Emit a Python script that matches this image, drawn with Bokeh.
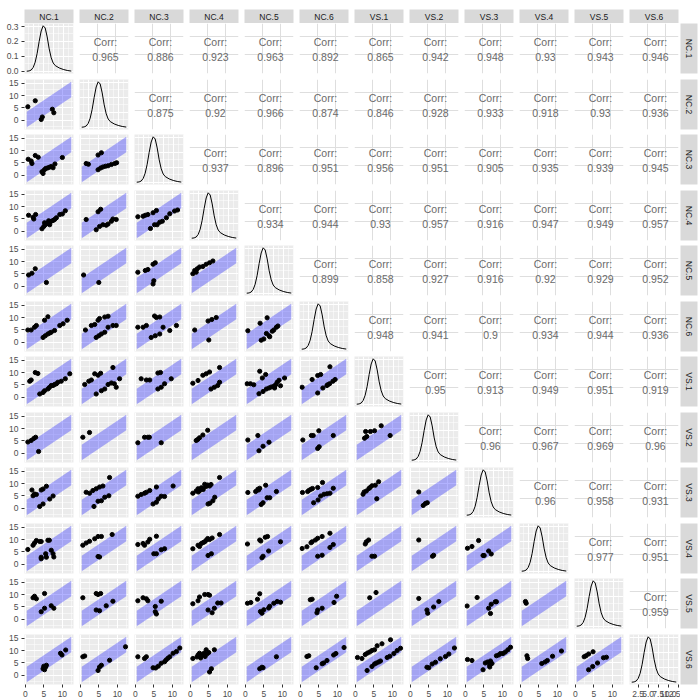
import math
from bokeh.plotting import figure
from bokeh.layouts import gridplot
from bokeh.models import FixedTicker, PrintfTickFormatter, Range1d
from bokeh.core.properties import value
from bokeh.embed import file_html
from bokeh.resources import INLINE

variables = ["NC.1", "NC.2", "NC.3", "NC.4", "NC.5", "NC.6",
             "VS.1", "VS.2", "VS.3", "VS.4", "VS.5", "VS.6"]

# ---- correlations (upper triangle), one list per row variable ----
corr_NC1 = [0.965, 0.886, 0.923, 0.963, 0.892, 0.865, 0.942, 0.948, 0.93, 0.943, 0.946]
corr_NC2 = [0.875, 0.92, 0.966, 0.874, 0.846, 0.928, 0.933, 0.918, 0.93, 0.936]
corr_NC3 = [0.937, 0.896, 0.951, 0.956, 0.951, 0.905, 0.935, 0.939, 0.945]
corr_NC4 = [0.934, 0.944, 0.93, 0.957, 0.916, 0.947, 0.949, 0.957]
corr_NC5 = [0.899, 0.858, 0.927, 0.916, 0.92, 0.929, 0.952]
corr_NC6 = [0.948, 0.941, 0.9, 0.934, 0.944, 0.936]
corr_VS1 = [0.95, 0.913, 0.949, 0.951, 0.919]
corr_VS2 = [0.96, 0.967, 0.969, 0.96]
corr_VS3 = [0.96, 0.958, 0.931]
corr_VS4 = [0.977, 0.951]
corr_VS5 = [0.959]
corr_rows = [corr_NC1, corr_NC2, corr_NC3, corr_NC4, corr_NC5, corr_NC6,
             corr_VS1, corr_VS2, corr_VS3, corr_VS4, corr_VS5]

# ---- diagonal density (estimated shape) ----
dens_x = [0.9, 1.5, 2.0, 2.5, 3.0, 3.5, 4.0, 4.5, 5.0, 5.5, 6.0, 6.5, 7.0, 7.5, 8.0, 9.0, 10.0, 11.0, 12.0]
dens_y = [0.0, 0.002, 0.008, 0.025, 0.06, 0.12, 0.2, 0.27, 0.305, 0.29, 0.23, 0.15, 0.09, 0.055, 0.038, 0.022, 0.012, 0.005, 0.001]

# ---- agreement band ----
band_x = [0.4, 12.4]
band_half = 3.1

# ---- scatter points (lower triangle): x = column variable, y = row variable ----
pts_NC2 = {
    "NC.1": ([0.7, 2.7, 4.3, 4.6, 7.3, 7.7], [5.5, 7.9, 0.4, 1.4, 4.5, 3.1]),
}
pts_NC3 = {
    "NC.1": ([0.8, 1.6, 1.8, 2.7, 3.5, 4.5, 4.8, 5.1, 5.5, 6.0, 6.5, 7.0, 7.5, 8.0, 10.0],
             [6.5, 5.8, 4.8, 8.0, 7.3, 1.5, 0.8, 2.2, 2.8, 3.0, 3.3, 3.6, 3.1, 4.6, 7.2]),
    "NC.2": ([1.6, 2.2, 4.8, 5.7, 4.8, 5.5, 6.1, 6.8, 7.5, 8.4, 9.3, 9.8],
             [4.8, 4.5, 8.2, 9.1, 2.3, 3.0, 3.4, 3.7, 3.9, 4.4, 4.8, 5.1]),
}
pts_NC4 = {
    "NC.1": ([0.9, 2.1, 2.3, 2.8, 4.5, 5.0, 5.4, 5.7, 6.1, 6.6, 7.0, 7.5, 7.9, 8.4, 9.3, 10.0, 10.8, 6.6, 5.2, 6.3],
             [6.5, 5.7, 5.0, 6.8, 1.1, 2.0, 2.7, 3.1, 3.4, 3.8, 4.1, 4.4, 4.8, 5.5, 6.8, 7.0, 8.3, 2.7, 3.5, 4.3]),
    "NC.2": ([1.6, 4.8, 5.5, 4.3, 5.2, 6.1, 7.0, 7.5, 8.4, 8.8, 9.7],
             [4.8, 7.9, 8.9, 0.7, 2.0, 2.7, 2.5, 3.0, 4.1, 5.0, 4.8]),
    "NC.3": ([0.7, 2.1, 2.7, 3.4, 4.8, 5.7, 4.1, 5.2, 5.9, 6.6, 7.3, 8.4, 9.3, 10.6, 11.4],
             [5.9, 6.1, 6.5, 6.8, 7.5, 8.4, 1.2, 2.7, 2.7, 3.7, 4.1, 5.5, 7.1, 8.2, 8.6]),
}
pts_NC5 = {
    "NC.1": ([0.9, 1.8, 2.7, 5.7], [4.6, 5.3, 7.1, 1.6]),
    "NC.2": ([0.9, 5.0], [4.6, 1.6]),
    "NC.3": ([0.7, 2.7, 3.4, 4.8, 5.4, 4.8, 5.0], [5.7, 6.4, 6.8, 8.9, 9.5, 1.0, 2.3]),
    "NC.4": ([0.7, 1.2, 1.6, 1.9, 2.5, 3.4, 4.3, 5.2, 6.1], [5.1, 6.4, 5.7, 7.1, 7.8, 8.0, 8.9, 9.5, 10.2]),
}
pts_NC6 = {
    "NC.1": ([0.7, 1.6, 2.5, 3.0, 5.2, 6.1, 4.8, 5.4, 6.1, 7.0, 7.9, 9.3, 10.2, 11.3, 6.6],
             [5.0, 5.0, 6.1, 6.8, 8.9, 10.3, 2.0, 2.7, 3.4, 4.1, 4.8, 6.8, 7.5, 8.9, 3.8]),
    "NC.2": ([1.4, 3.0, 3.9, 4.8, 5.2, 6.6, 7.5, 4.3, 5.0, 5.7, 6.6, 7.5, 8.8, 9.7],
             [5.0, 6.8, 7.2, 8.9, 9.6, 10.2, 10.5, 2.0, 2.7, 3.4, 4.1, 6.1, 6.8, 6.8]),
    "NC.3": ([0.7, 2.1, 3.0, 5.7, 6.6, 5.2, 4.3, 5.4, 6.6, 7.5, 9.3, 11.1],
             [6.1, 6.1, 6.8, 10.0, 10.2, 10.6, 2.0, 2.7, 3.4, 6.1, 4.8, 6.8]),
    "NC.4": ([1.2, 4.8, 5.8, 7.0, 5.0], [5.0, 8.6, 9.2, 10.0, 1.0]),
    "NC.5": ([0.7, 4.0, 5.9, 4.3, 5.0, 6.4, 6.6, 7.3, 7.7, 8.4, 8.8, 5.7],
             [4.7, 7.7, 9.9, 0.9, 1.4, 2.7, 2.3, 4.5, 5.0, 6.1, 6.6, 3.6]),
}
pts_VS1 = {
    "NC.1": ([1.2, 1.6, 2.7, 3.4, 3.9, 4.8, 5.2, 6.1, 7.0, 7.9, 8.8, 9.7, 10.8, 12.0, 7.5, 8.4, 6.5],
             [6.5, 7.0, 10.0, 9.6, 1.4, 2.0, 2.7, 3.4, 4.8, 5.2, 6.1, 6.5, 7.5, 9.5, 4.8, 5.5, 4.0]),
    "NC.2": ([1.2, 2.3, 3.0, 3.9, 4.8, 5.5, 4.3, 5.7, 6.6, 7.5, 8.4, 8.8, 9.2, 9.7, 10.6],
             [5.2, 6.5, 7.0, 9.5, 8.9, 9.7, 1.4, 2.7, 3.4, 5.2, 5.8, 12.0, 5.5, 4.1, 7.5]),
    "NC.3": ([1.6, 3.0, 3.9, 6.1, 6.8, 6.1, 7.0, 7.9, 9.7], [7.5, 7.0, 7.0, 9.8, 10.0, 3.4, 4.1, 5.5, 7.5]),
    "NC.4": ([0.7, 2.1, 3.4, 4.3, 5.2, 7.9, 5.6, 6.5, 7.4, 7.9], [5.7, 6.8, 8.9, 9.5, 10.2, 12.0, 3.4, 4.1, 4.8, 6.1]),
    "NC.5": ([0.5, 1.4, 2.3, 3.9, 4.6, 5.5, 3.7, 4.8, 5.7, 6.4, 7.0, 7.7, 8.2, 8.6, 9.1, 9.5, 10.6, 7.9],
             [5.5, 5.5, 5.1, 10.5, 7.8, 9.2, 1.5, 2.4, 3.4, 3.8, 4.2, 4.5, 5.1, 6.1, 6.9, 4.7, 7.8, 3.8]),
    "NC.6": ([0.5, 3.2, 4.7, 5.5, 8.0, 4.7, 6.1, 7.4, 7.9, 8.8, 9.4, 7.2],
             [4.1, 7.2, 8.8, 9.2, 12.3, 1.8, 3.8, 5.1, 5.5, 6.5, 7.2, 4.8]),
}
pts_VS2 = {
    "NC.1": ([0.7, 1.6, 2.3, 2.8, 3.6], [4.6, 5.2, 6.0, 6.5, 0.8]),
    "NC.2": ([0.7, 2.5], [6.5, 8.4]),
    "NC.3": ([0.7, 2.5, 3.4, 3.8, 7.0], [4.3, 6.5, 6.5, 6.5, 4.3]),
    "NC.4": ([1.6, 2.5, 3.4, 4.7, 2.0], [5.2, 6.3, 7.4, 9.3, 5.6]),
    "NC.5": ([0.7, 3.4, 3.7, 4.8, 6.4], [5.4, 7.2, 1.1, 2.9, 4.5]),
    "NC.6": ([0.7, 3.0, 3.5, 5.0, 8.9, 4.7, 5.1], [5.4, 7.2, 7.2, 9.1, 7.2, 2.0, 2.7]),
    "VS.1": ([2.8, 3.1, 2.5, 4.1, 5.2, 7.0, 9.4], [8.8, 6.8, 6.1, 8.8, 9.1, 11.1, 7.2]),
}
pts_VS3 = {
    "NC.1": ([1.8, 2.1, 2.5, 3.0, 4.3, 4.8, 5.7, 3.9, 4.8, 6.6, 7.5],
             [7.4, 5.1, 5.8, 5.6, 7.4, 7.8, 8.9, 0.8, 1.8, 3.8, 5.0]),
    "NC.2": ([1.6, 2.5, 3.4, 4.3, 5.2, 6.1, 7.9, 3.7, 4.8, 5.7, 6.6, 7.7],
             [6.5, 6.1, 7.2, 7.9, 8.6, 9.0, 12.4, 0.8, 2.9, 3.1, 4.5, 5.1]),
    "NC.3": ([0.7, 1.6, 2.5, 3.0, 3.9, 5.7, 7.0, 7.9, 4.8, 5.7, 6.2, 10.2],
             [4.9, 5.6, 6.1, 6.5, 7.2, 8.6, 4.9, 4.8, 1.8, 2.5, 3.8, 9.0]),
    "NC.4": ([0.7, 1.6, 2.1, 2.6, 3.0, 3.5, 3.9, 4.3, 4.7, 5.2, 5.6, 2.2, 3.3, 7.9, 4.8, 5.3, 6.1, 6.6],
             [6.1, 7.0, 7.9, 7.2, 8.3, 7.6, 9.7, 8.8, 9.4, 9.0, 9.6, 6.6, 8.0, 12.4, 1.8, 2.1, 3.1, 4.5]),
    "NC.5": ([0.7, 2.8, 3.4, 3.9, 5.5, 8.4, 4.3, 4.8, 5.9, 6.6, 3.6],
             [6.4, 6.8, 7.7, 8.1, 9.3, 6.8, 1.6, 2.3, 4.3, 4.3, 7.4]),
    "NC.6": ([0.6, 2.0, 2.4, 2.9, 3.3, 4.7, 6.0, 3.6, 4.8, 5.5, 6.4, 7.2, 8.0, 8.9],
             [6.4, 6.8, 7.3, 7.7, 8.0, 8.4, 10.4, 2.3, 3.4, 5.0, 5.7, 5.9, 6.1, 8.1]),
    "VS.1": ([2.1, 3.0, 3.7, 4.5, 5.4, 6.3, 2.4, 4.0, 5.8], [5.7, 7.0, 8.0, 9.1, 9.3, 10.7, 6.6, 8.4, 3.9]),
    "VS.2": ([2.3, 3.5, 4.1, 4.6], [6.6, 1.2, 2.0, 2.3]),
}
pts_VS4 = {
    "NC.1": ([0.7, 2.1, 2.5, 3.0, 3.9, 4.3, 6.1, 6.5, 4.3, 5.5, 5.7, 7.0, 7.5, 7.7, 4.3],
             [6.0, 7.7, 8.6, 9.6, 9.2, 9.2, 9.7, 9.7, 2.9, 4.3, 2.9, 5.7, 4.3, 3.0, 2.3]),
    "NC.2": ([0.7, 1.6, 2.5, 3.9, 4.8, 5.7, 4.8, 5.2, 8.6], [7.7, 8.6, 9.3, 10.3, 11.2, 11.2, 3.2, 3.0, 12.0]),
    "NC.3": ([0.7, 2.1, 2.5, 3.4, 3.9, 5.7, 5.0, 5.7, 7.0, 7.9], [8.0, 8.4, 7.7, 9.0, 10.1, 11.3, 4.3, 4.3, 5.9, 6.3]),
    "NC.4": ([0.7, 2.1, 3.0, 3.9, 4.3, 4.7, 5.2, 5.9, 7.9, 4.8, 5.7, 2.5, 3.5],
             [6.3, 7.7, 8.4, 9.1, 9.7, 10.4, 10.0, 10.6, 12.0, 3.6, 4.3, 7.2, 8.8]),
    "NC.5": ([0.6, 3.9, 4.2, 5.4, 6.0, 9.5, 4.5, 4.8, 6.3], [8.2, 9.8, 9.4, 10.9, 11.2, 9.1, 2.7, 3.3, 5.4]),
    "NC.6": ([0.5, 1.8, 2.9, 3.2, 4.1, 4.7, 5.9, 8.0, 4.7, 5.9, 8.0, 8.9],
             [6.4, 7.1, 8.7, 9.1, 9.8, 10.5, 11.2, 12.5, 3.3, 3.7, 6.8, 8.0]),
    "VS.1": ([2.7, 3.0, 3.6, 4.5, 5.2], [8.2, 9.1, 9.8, 3.3, 3.3]),
    "VS.2": ([2.3, 6.0, 6.3], [9.8, 3.3, 3.7]),
    "VS.3": ([0.6, 1.8, 3.6, 4.8, 5.1, 6.3, 7.0], [6.5, 7.2, 9.6, 3.6, 3.6, 5.4, 4.2]),
}
pts_VS5 = {
    "NC.1": ([2.1, 2.5, 3.0, 5.2, 4.3, 5.2, 7.0, 7.7], [8.7, 9.3, 8.3, 10.4, 3.1, 4.5, 5.5, 4.5]),
    "NC.2": ([0.7, 4.3, 4.8, 5.5, 4.3, 5.2, 7.0, 8.8], [8.7, 10.4, 10.0, 10.4, 3.8, 3.5, 5.5, 7.3]),
    "NC.3": ([0.7, 2.1, 3.0, 3.4, 5.4, 5.4, 5.7, 7.0], [7.5, 8.7, 8.3, 7.5, 5.2, 3.1, 2.2, 7.3]),
    "NC.4": ([0.7, 2.1, 2.5, 3.9, 4.8, 5.2, 4.8, 5.9, 6.5, 7.4, 8.3], [6.3, 7.5, 9.0, 10.0, 10.0, 9.7, 3.8, 2.7, 4.5, 6.6, 6.6]),
    "NC.5": ([0.6, 1.5, 3.3, 3.9, 4.1, 4.5, 5.0, 6.3, 6.6, 7.7, 8.6, 9.5],
             [6.5, 6.8, 8.1, 10.3, 3.2, 2.5, 3.9, 4.6, 5.3, 6.5, 7.2, 6.9]),
    "NC.6": ([2.7, 3.2, 4.5, 4.7, 5.9, 9.1, 9.8], [7.9, 8.1, 2.7, 3.8, 4.5, 6.8, 9.3]),
    "VS.1": ([3.9, 5.6], [8.7, 10.8]),
    "VS.2": ([2.3, 4.5, 4.7, 6.3, 7.7], [8.4, 3.8, 2.5, 5.0, 7.2]),
    "VS.3": ([0.5, 3.2, 6.3, 7.0, 8.1, 8.4, 6.8], [5.4, 8.8, 4.5, 6.1, 7.1, 7.1, 2.4]),
    "VS.4": ([1.4, 1.6], [7.2, 6.5]),
}
pts_VS6 = {
    "NC.1": ([4.8, 5.0, 5.2, 5.5, 5.7, 9.5, 9.9, 10.9], [2.7, 3.7, 2.3, 3.4, 4.1, 8.9, 8.2, 10.2]),
    "NC.2": ([0.7, 1.2, 4.8, 5.2, 5.7, 7.9, 12.2], [7.5, 7.8, 2.0, 3.4, 4.1, 6.1, 11.5]),
    "NC.3": ([0.7, 2.5, 3.0, 4.8, 6.2, 7.0, 7.9, 8.8, 9.3, 10.2, 11.1, 12.0, 5.5, 8.3],
             [7.5, 6.8, 7.5, 3.1, 3.7, 4.9, 5.5, 6.9, 7.5, 8.9, 9.6, 11.0, 3.0, 6.2]),
    "NC.4": ([0.7, 2.1, 2.5, 3.0, 3.5, 4.0, 4.5, 5.0, 1.8, 2.8, 3.8, 4.3, 6.5, 5.7, 5.2],
             [6.8, 8.2, 8.9, 8.0, 8.5, 7.6, 8.6, 9.2, 7.4, 7.0, 9.0, 10.3, 10.3, 2.7, 1.4]),
    "NC.5": ([3.9, 4.5, 4.8, 8.4], [2.7, 3.3, 3.1, 7.5]),
    "NC.6": ([1.8, 2.3, 4.3, 5.9, 6.3, 7.2, 9.0, 9.6, 11.8], [7.6, 7.9, 3.1, 4.7, 5.0, 6.0, 8.2, 8.8, 11.2]),
    "VS.1": ([0.6, 1.8, 2.7, 3.3, 3.9, 4.5, 5.2, 5.9, 7.2, 9.5, 3.2, 4.5, 5.2, 5.7, 6.3, 6.8, 8.6, 9.3, 10.4, 11.3, 12.2],
             [7.2, 6.8, 8.4, 9.0, 9.4, 10.0, 10.3, 11.9, 12.7, 14.3, 2.0, 3.6, 4.6, 5.0, 5.4, 5.8, 7.2, 7.7, 8.8, 10.0, 10.9]),
    "VS.2": ([4.5, 5.0, 5.9, 6.8, 8.1, 9.5, 10.4, 11.9], [3.3, 3.1, 4.6, 5.3, 6.7, 7.6, 8.6, 11.0]),
    "VS.3": ([0.6, 1.8, 4.8, 5.4, 6.0, 6.8, 6.6, 7.2, 8.4, 9.0, 9.5, 10.2, 10.8, 11.5, 12.2, 6.6],
             [6.4, 6.0, 2.3, 5.0, 5.4, 5.8, 4.1, 4.8, 7.9, 8.2, 8.8, 8.8, 9.4, 10.3, 11.3, 3.4]),
    "VS.4": ([1.8, 2.0, 5.8, 6.7, 7.3, 8.7, 11.1], [7.9, 6.8, 4.8, 5.4, 6.0, 7.7, 9.8]),
    "VS.5": ([2.4, 2.9, 3.6, 4.8, 3.6, 4.7, 6.0, 7.6, 8.4], [7.5, 7.9, 8.6, 9.5, 2.3, 3.6, 5.0, 7.1, 7.3]),
}
pts_rows = [None, pts_NC2, pts_NC3, pts_NC4, pts_NC5, pts_NC6,
            pts_VS1, pts_VS2, pts_VS3, pts_VS4, pts_VS5, pts_VS6]

# ---------------- layout / style ----------------
FONT = "Liberation Sans"
N = len(variables)
FW, FH = 49, 50
row_gaps = [6, 5, 6, 5, 6, 5, 6, 5, 6, 5, 6]
BG = "#EBEBEB"
STRIP = "#D9D9D9"

def pad_x(lo, hi):
    d = (hi - lo) * 0.05
    return (lo - d, hi + d)

sc_x = pad_x(band_x[0], band_x[1])
sc_y = pad_x(band_x[0] - band_half, band_x[1] + band_half)
de_x = pad_x(min(dens_x), max(dens_x))
de_y = pad_x(0.0, max(dens_y))
co_rng = (-0.1, 13.6)


def borders(r, c):
    top = 0 if r == 0 else 3
    bottom = 16 if r == N - 1 else row_gaps[r] - 3
    left = 24 if c == 0 else 3
    right = 2 if c == N - 1 else 3
    return top, bottom, left, right


def style_axis(ax):
    ax.axis_line_color = None
    ax.major_tick_line_color = "#333333"
    ax.major_tick_out = 3
    ax.major_tick_in = 0
    ax.minor_tick_line_color = None
    ax.major_label_text_color = "#4D4D4D"
    ax.major_label_text_font = FONT
    ax.major_label_text_font_size = "8.5px"
    ax.major_label_standoff = 2


def base_fig(r, c, xr, yr, bg):
    t, b, l, rr = borders(r, c)
    p = figure(frame_width=FW, frame_height=FH,
               x_range=Range1d(*xr), y_range=Range1d(*yr),
               x_axis_location="below" if r == N - 1 else None,
               y_axis_location="left" if c == 0 else None,
               toolbar_location=None, output_backend="svg",
               min_border_top=t, min_border_bottom=b,
               min_border_left=l, min_border_right=rr,
               background_fill_color=bg, border_fill_color="white",
               outline_line_color=None)
    for ax in p.axis:
        style_axis(ax)
    return p


def set_grid(p, xt, xm, yt, ym, color, width, minor_width):
    tx = FixedTicker(ticks=xt, minor_ticks=xm)
    ty = FixedTicker(ticks=yt, minor_ticks=ym)
    p.xgrid.ticker = tx
    p.ygrid.ticker = ty
    for g in (p.xgrid[0], p.ygrid[0]):
        g.grid_line_color = color
        g.grid_line_width = width
        g.minor_grid_line_color = color if ym else None
        g.minor_grid_line_width = minor_width
    if p.xaxis:
        p.xaxis.ticker = tx
    if p.yaxis:
        p.yaxis.ticker = ty


def scatter_panel(r, c):
    p = base_fig(r, c, sc_x, sc_y, BG)
    set_grid(p, [0, 5, 10], [-2.5, 2.5, 7.5, 12.5],
             [0, 5, 10, 15], [-2.5, 2.5, 7.5, 12.5], "white", 1.1, 0.5)
    lo = [x - band_half for x in band_x]
    hi = [x + band_half for x in band_x]
    p.varea(x=band_x, y1=lo, y2=hi, fill_color="blue", fill_alpha=0.3)
    xs, ys = pts_rows[r][variables[c]]
    p.scatter(xs, ys, size=4.2, color="black")
    return p


def density_panel(r, c):
    p = base_fig(r, c, de_x, de_y, BG)
    set_grid(p, [2.5, 5, 7.5, 10, 12.5], [1.25, 3.75, 6.25, 8.75, 11.25],
             [0, 0.1, 0.2, 0.3], [0.05, 0.15, 0.25], "white", 1.1, 0.5)
    if p.xaxis:
        p.xaxis.formatter = PrintfTickFormatter(format="%.1f")
    if p.yaxis:
        p.yaxis.formatter = PrintfTickFormatter(format="%.1f")
    p.line(dens_x, dens_y, line_color="black", line_width=1)
    return p


def corr_panel(r, c):
    p = base_fig(r, c, co_rng, co_rng, "white")
    set_grid(p, [5, 10], [], [5, 10], [], "#DEDEDE", 1, 0)
    v = corr_rows[r][c - r - 1]
    xc = (co_rng[0] + co_rng[1]) / 2 + 0.4
    span = co_rng[1] - co_rng[0]
    p.text(x=[xc, xc], y=[co_rng[0] + 0.64 * span, co_rng[0] + 0.34 * span],
           text=["Corr:", str(v)], text_align="center", text_baseline="middle",
           text_font=value(FONT), text_font_size="10.5px", text_color="#6A6A6A")
    return p


def strip_fig(label, w, h, t, b, l, rr, vertical):
    p = figure(frame_width=w, frame_height=h, x_range=Range1d(0, 1), y_range=Range1d(0, 1),
               x_axis_location=None, y_axis_location=None,
               toolbar_location=None, output_backend="svg",
               min_border_top=t, min_border_bottom=b, min_border_left=l, min_border_right=rr,
               background_fill_color=STRIP, border_fill_color="white", outline_line_color=None)
    p.xgrid.visible = False
    p.ygrid.visible = False
    p.text(x=[0.5], y=[0.5], text=[label], text_align="center", text_baseline="middle",
           angle=-math.pi / 2 if vertical else 0,
           text_font=value(FONT), text_font_size="8.5px", text_color="#1A1A1A")
    return p


rows = []
top_row = []
for c in range(N):
    _, _, l, rr = borders(0, c)
    top_row.append(strip_fig(variables[c], FW, 14, 9, 0, l, rr, False))
top_row.append(None)
rows.append(top_row)

for r in range(N):
    row = []
    for c in range(N):
        if r == c:
            row.append(density_panel(r, c))
        elif r > c:
            row.append(scatter_panel(r, c))
        else:
            row.append(corr_panel(r, c))
    t, b, _, _ = borders(r, 0)
    row.append(strip_fig(variables[r], 17, FH, t, b, 0, 3, True))
    rows.append(row)

grid = gridplot(rows, toolbar_location=None)
open("out.html", "w").write(file_html(grid, INLINE))
